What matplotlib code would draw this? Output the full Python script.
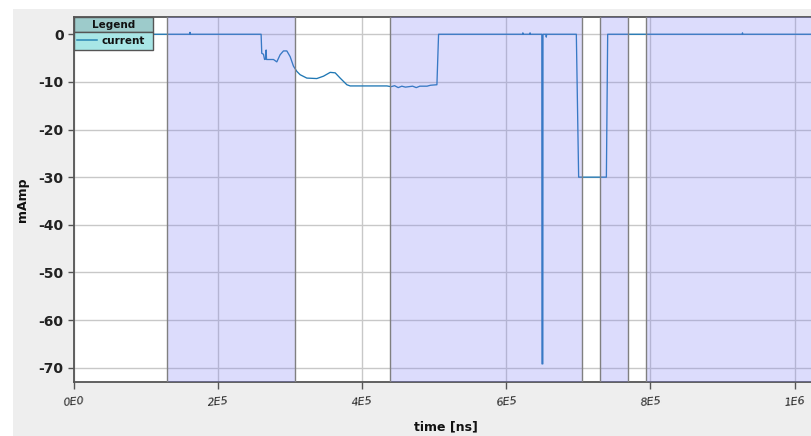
import matplotlib
matplotlib.use("Agg")
import matplotlib.pyplot as plt
from matplotlib.patches import Rectangle
from matplotlib.lines import Line2D

# ---------------- data ----------------
time_ns = [0, 160500, 161000, 161500, 259700, 260600, 263000, 264500, 266000, 266700,
           267200, 276900, 281500, 286100, 290700, 295400, 300000, 304600, 309300,
           313900, 323100, 337000, 346300, 355600, 362500, 369400, 378700, 383300,
           434300, 440000, 445000, 450000, 455000, 460000, 470000, 475000, 480000,
           490000, 495000, 503700, 506000, 622500, 623000, 623500, 632500, 633000,
           633500, 649300, 649500, 650700, 650900, 655000, 655500, 656000, 697200,
           700400, 738900, 740700, 927300, 927800, 928300, 1023000]
current_mA = [0, 0, 0.4, 0, 0, -4.0, -4.2, -5.3, -5.2, -3.3,
              -5.3, -5.3, -5.8, -4.3, -3.5, -3.5, -4.7, -6.7, -7.8,
              -8.5, -9.2, -9.3, -8.8, -8.0, -8.1, -9.2, -10.6, -10.85,
              -10.85, -11.0, -10.8, -11.2, -10.9, -11.1, -10.9, -11.2, -10.9,
              -10.9, -10.7, -10.6, 0, 0, 0.3, 0, 0, 0.3,
              0, 0, -69.2, -69.2, 0, 0, -0.6, 0, 0,
              -30.0, -30.0, 0, 0, 0.3, 0, 0]

# shaded intervals (ns)
shade_start = [128700, 438600, 730700, 793900]
shade_end = [307400, 705100, 768900, 1100000]
border_x = [128700, 307400, 438600, 705100, 730700, 768900, 793900]

x_ticks = [0, 200000, 400000, 600000, 800000, 1000000]
x_tick_labels = ["0E0", "2E5", "4E5", "6E5", "8E5", "1E6"]
y_ticks = [0, -10, -20, -30, -40, -50, -60, -70]

# ---------------- layout ----------------
W, H = 811, 436
fig = plt.figure(figsize=(W / 100, H / 100), dpi=100)
fig.patch.set_facecolor("white")
fig.patches.append(Rectangle((13 / W, 0), 1, 1 - 9 / H, transform=fig.transFigure,
                             facecolor="#eeeeee", edgecolor="none", zorder=-10))

L, R, T, B = 74, 812, 17.3, 382.3
ax = fig.add_axes([L / W, 1 - B / H, (R - L) / W, (B - T) / H])
ax.set_facecolor("white")

xmax = (R - L) / 720.5 * 1e6
ax.set_xlim(0, xmax)
ax.set_ylim(-73.07, 3.56)

# grid
ax.set_xticks(x_ticks)
ax.set_yticks(y_ticks)
ax.grid(True, color="#c8c8c8", linewidth=1.0, zorder=1)
ax.set_axisbelow(True)

# data line
ax.plot(time_ns, current_mA, color="#1f77b4", linewidth=0.95, zorder=3)

# shading on top (semi-transparent)
for s, e in zip(shade_start, shade_end):
    ax.axvspan(s, e, facecolor=(127 / 255, 127 / 255, 244 / 255), alpha=0.265,
               edgecolor="none", zorder=4)
for bx in border_x:
    ax.axvline(bx, color="#808080", linewidth=1.0, zorder=5)

# ticks
ax.set_xticklabels(x_tick_labels, fontsize=8, fontstyle="italic", rotation=6,
                   color="#222222")
ax.set_yticklabels([str(v) for v in y_ticks], fontsize=10,
                   fontweight="bold", color="#222222")
ax.tick_params(axis="x", length=5, width=1, color="#555555", pad=5)
ax.tick_params(axis="y", length=4.5, width=1, color="#555555", pad=3)

for side in ["left", "bottom", "top"]:
    ax.spines[side].set_color("#555555")
    ax.spines[side].set_linewidth(1.3)
ax.spines["right"].set_visible(False)

fig.text(22.5 / W, 1 - 200 / H, "mAmp", rotation=90, ha="center", va="center",
         fontsize=9, fontweight="bold", color="#111111")
fig.text(446 / W, 1 - 427 / H, "time [ns]", ha="center", va="center",
         fontsize=9, fontweight="bold", color="#111111")

# custom legend box
def axx(px):
    return (px - L) / (R - L)

def axy(py):
    return (B - py) / (B - T)

lx0, lx1 = 74, 153
hy0, hy1, ry1 = 17.3, 32.3, 50
ax.add_patch(Rectangle((axx(lx0), axy(hy1)), axx(lx1) - axx(lx0), axy(hy0) - axy(hy1),
                       transform=ax.transAxes, facecolor="#9dcbcb", edgecolor="#555555",
                       linewidth=1.0, zorder=10, clip_on=False))
ax.add_patch(Rectangle((axx(lx0), axy(ry1)), axx(lx1) - axx(lx0), axy(hy1) - axy(ry1),
                       transform=ax.transAxes, facecolor="#a8e6e6", edgecolor="#555555",
                       linewidth=1.0, zorder=10, clip_on=False))
ax.text(axx(113.5), axy(25), "Legend", transform=ax.transAxes, ha="center",
        va="center", fontsize=7.5, fontweight="bold", color="#111111", zorder=11)
ax.add_line(Line2D([axx(77), axx(97)], [axy(40.5), axy(40.5)], transform=ax.transAxes,
                   color="#2a86b4", linewidth=1.1, zorder=11))
ax.text(axx(102), axy(41), "current", transform=ax.transAxes, ha="left",
        va="center", fontsize=7.5, fontweight="bold", color="#111111", zorder=11)

fig.savefig("out.png", dpi=100)
